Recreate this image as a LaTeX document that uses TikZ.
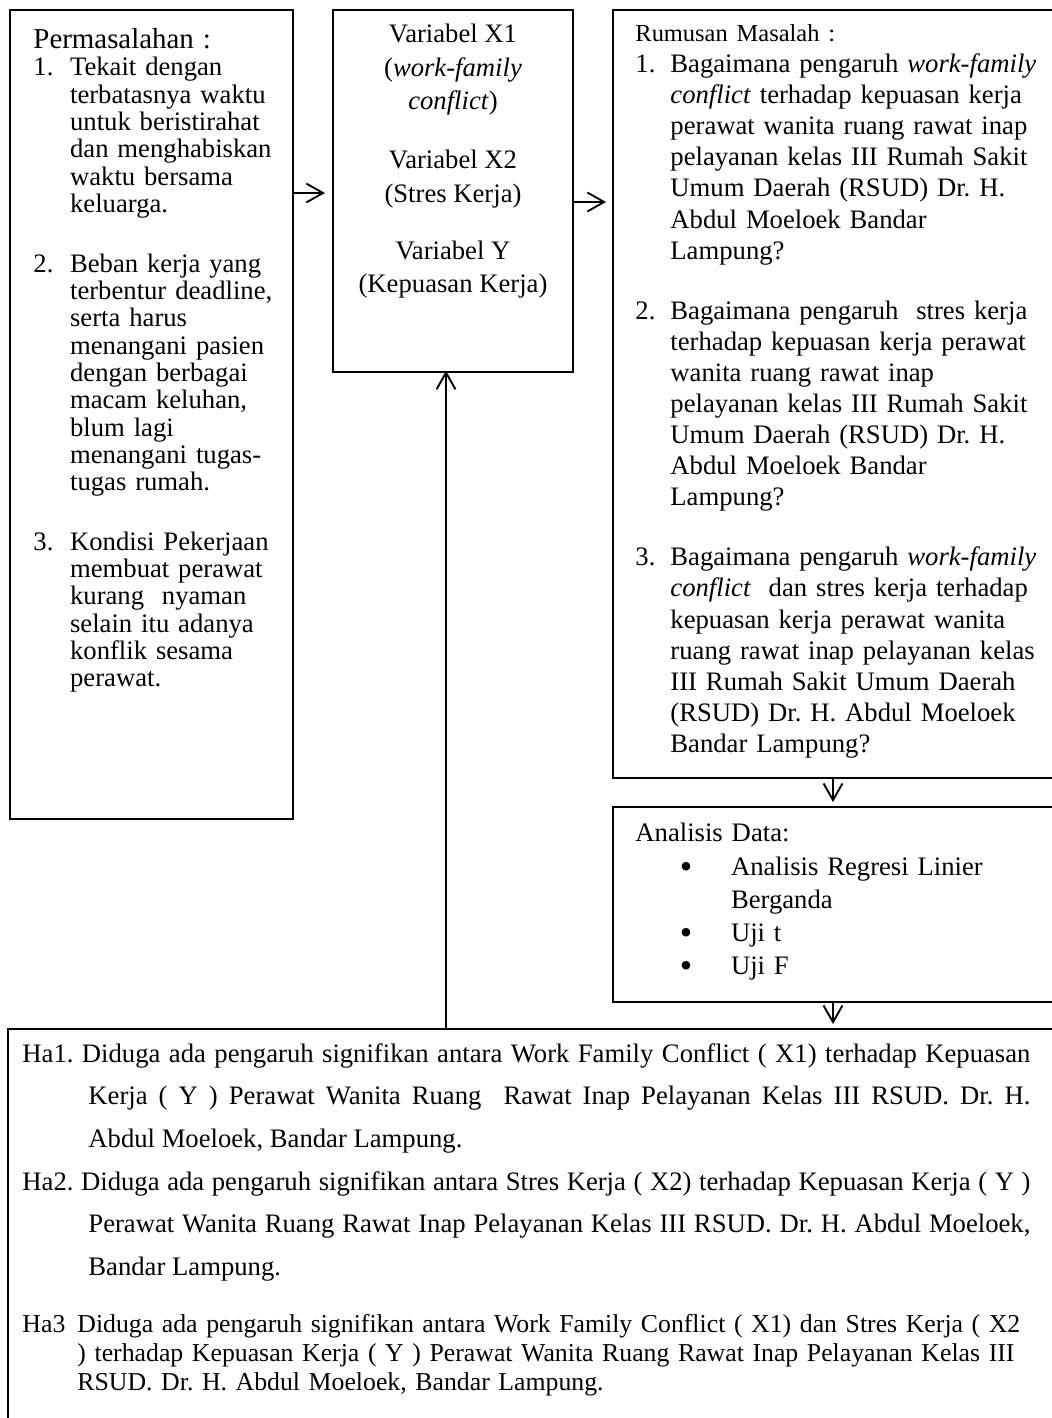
\documentclass[tikz,border=0pt]{standalone}
\usepackage{fontspec}
\setmainfont{Liberation Serif}
\usetikzlibrary{arrows.meta}
\usetikzlibrary{fit}

\newcommand{\butir}[3]{\par\hangindent=#1\hangafter=1\noindent\makebox[#1][l]{#2}#3\par}
\newcommand{\titik}{\hspace{20pt}{\fontsize{16}{16}\selectfont\raisebox{-1.6pt}{\textbullet}}}

\begin{document}
\frenchspacing
\begin{tikzpicture}[x=0.45pt,y=-0.45pt,
  kotak/.style={draw, line width=0.85pt, inner sep=0pt},
  isi/.style={anchor=north west, inner sep=0pt, align=left, font=\fontsize{12}{12.3}\selectfont\frenchspacing},
  panah/.style={-{Straight Barb[length=7.5pt,width=8.5pt]}, line width=0.85pt}]
\useasboundingbox (0,0) rectangle (1051,1418);
% kotak
\node[kotak, fit={(10,10) (293,819)}] (masalah) {};
\node[kotak, fit={(333,10) (573,372)}] (variabel) {};
\node[kotak, fit={(613,10) (1080,778)}] (rumusan) {};
\node[kotak, fit={(613,807) (1080,1002)}] (analisis) {};
\node[kotak, fit={(8,1029) (1080,1450)}] (hipotesis) {};
% isi kotak
\node[isi, text width=120pt] (tmasalah) at (33,28) {{\fontsize{13}{14}\selectfont Permasalahan :}
\butir{16.5pt}{1.}{Tekait dengan\newline terbatasnya waktu\newline untuk beristirahat\newline dan menghabiskan\newline waktu bersama\newline keluarga.}
\vspace{14.5pt}
\butir{16.5pt}{2.}{Beban kerja yang\newline terbentur deadline,\newline serta harus\newline menangani pasien\newline dengan berbagai\newline macam keluhan,\newline blum lagi\newline menangani tugas-\newline tugas rumah.}
\vspace{14.5pt}
\butir{16.5pt}{3.}{Kondisi Pekerjaan\newline membuat perawat\newline kurang\ \ nyaman\newline selain itu adanya\newline konflik sesama\newline perawat.}};
\node[isi, anchor=north, align=center, font=\fontsize{12}{14.9}\selectfont] (tvariabel) at (453,24)
  {Variabel X1\\(\textit{work-family}\\\textit{conflict})\\[12pt]Variabel X2\\(Stres Kerja)\\[11pt]Variabel Y\\(Kepuasan Kerja)};
\node[isi, text width=200pt, font=\fontsize{12}{14}\selectfont\frenchspacing] (trumusan) at (635,24) {{\fontsize{11}{13}\selectfont Rumusan Masalah :}
\butir{15.75pt}{1.}{Bagaimana pengaruh \textit{work-family}\newline \textit{conflict} terhadap kepuasan kerja\newline perawat wanita ruang rawat inap\newline pelayanan kelas III Rumah Sakit\newline Umum Daerah (RSUD) Dr. H.\newline Abdul Moeloek Bandar\newline Lampung?}
\vspace{13pt}
\butir{15.75pt}{2.}{Bagaimana pengaruh\ \ stres kerja\newline terhadap kepuasan kerja perawat\newline wanita ruang rawat inap\newline pelayanan kelas III Rumah Sakit\newline Umum Daerah (RSUD) Dr. H.\newline Abdul Moeloek Bandar\newline Lampung?}
\vspace{13pt}
\butir{15.75pt}{3.}{Bagaimana pengaruh \textit{work-family}\newline \textit{conflict}\ \ dan stres kerja terhadap\newline kepuasan kerja perawat wanita\newline ruang rawat inap pelayanan kelas\newline III Rumah Sakit Umum Daerah\newline (RSUD) Dr. H. Abdul Moeloek\newline Bandar Lampung?}};
\node[isi, text width=200pt, font=\fontsize{12}{14.9}\selectfont] (tanalisis) at (635,823) {Analisis Data:
\butir{43pt}{\titik}{Analisis Regresi Linier\newline Berganda}
\butir{43pt}{\titik}{Uji t}
\butir{43pt}{\titik}{Uji F}};
\node[isi, text width=453.6pt, align=justify, font=\fontsize{12}{19.1}\selectfont\frenchspacing] (ha1) at (22,1043)
  {\hangindent=29.7pt\hangafter=1 Ha1. Diduga ada pengaruh signifikan antara Work Family Conflict ( X1) terhadap Kepuasan\linebreak Kerja ( Y ) Perawat Wanita Ruang\ \ Rawat Inap Pelayanan Kelas III RSUD. Dr. H.\linebreak Abdul Moeloek, Bandar Lampung.\par};
\node[isi, text width=453.6pt, align=justify, font=\fontsize{12}{19.1}\selectfont\frenchspacing] (ha2) at (22,1171)
  {\hangindent=29.7pt\hangafter=1 Ha2. Diduga ada pengaruh signifikan antara Stres Kerja ( X2) terhadap Kepuasan Kerja ( Y )\linebreak Perawat Wanita Ruang Rawat Inap Pelayanan Kelas III RSUD. Dr. H. Abdul Moeloek,\linebreak Bandar Lampung.\par};
\node[isi, text width=466pt, font=\fontsize{11.6}{13}\selectfont\frenchspacing] (ha3) at (22,1314)
  {\hangindent=24.75pt\hangafter=1\noindent\makebox[24.75pt][l]{Ha3}Diduga ada pengaruh signifikan antara Work Family Conflict ( X1) dan Stres Kerja ( X2\newline ) terhadap Kepuasan Kerja ( Y ) Perawat Wanita Ruang Rawat Inap Pelayanan Kelas III\newline RSUD. Dr. H. Abdul Moeloek, Bandar Lampung.\par};
% panah
\coordinate (y1) at (0,193);
\coordinate (y2) at (0,202);
\coordinate (x1) at (446,0);
\coordinate (x2) at (833,0);
\draw[panah, shorten >=3.2pt] (masalah.east |- y1) -- (variabel.west |- y1);
\draw[panah, shorten >=2.7pt] (variabel.east |- y2) -- (rumusan.west |- y2);
\draw[panah, shorten >=1.8pt] (rumusan.south -| x2) -- (analisis.north -| x2);
\draw[panah, shorten >=1.8pt] (analisis.south -| x2) -- (hipotesis.north -| x2);
\draw[panah, shorten >=-1pt] (hipotesis.north -| x1) -- (variabel.south -| x1);
\end{tikzpicture}
\end{document}
